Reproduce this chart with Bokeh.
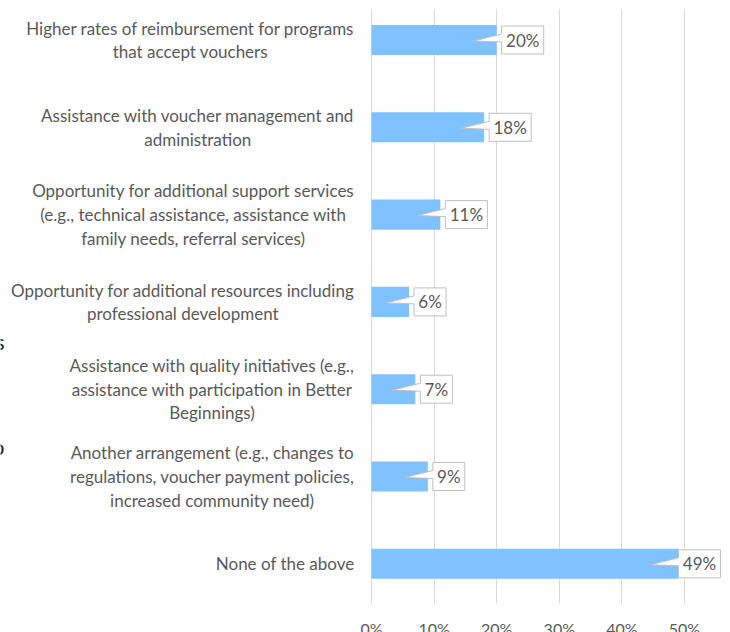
from bokeh.plotting import figure
from bokeh.models import Range1d, Label, FixedTicker
from bokeh.core.properties import value
from bokeh.embed import file_html
from bokeh.resources import INLINE

# ---- data ----
categories = [
    "Higher rates of reimbursement for programs\nthat accept vouchers",
    "Assistance with voucher management and\nadministration",
    "Opportunity for additional support services\n(e.g., technical assistance, assistance with\nfamily needs, referral services)",
    "Opportunity for additional resources including\nprofessional development",
    "Assistance with quality initiatives (e.g.,\nassistance with participation in Better\nBeginnings)",
    "Another arrangement (e.g., changes to\nregulations, voucher payment policies,\nincreased community need)",
    "None of the above",
]
values = [0.20, 0.18, 0.11, 0.06, 0.07, 0.09, 0.49]
value_labels = ["20%", "18%", "11%", "6%", "7%", "9%", "49%"]
x_ticks = [0.0, 0.1, 0.2, 0.3, 0.4, 0.5]
x_tick_labels = ["0%", "10%", "20%", "30%", "40%", "50%"]
stray_texts = ["s", "o"]          # cut-off fragments at the left edge
stray_rows = [3.45, 4.66]

# ---- layout ----
W, H = 730, 632
GRID_TOP, GRID_BOT = 9, 603        # canvas y extent of grid lines
TICK_LABEL_Y = 628                 # canvas y of tick label centres
ZERO_PX = 371                      # canvas x of 0%
PXX = 626.0                        # px per unit (100%)
ROW0_PX, ROW_PX = 39.5, 87.3


def y_of(px):
    return (px - ROW0_PX) / ROW_PX


X0 = -ZERO_PX / PXX
X1 = (W - ZERO_PX) / PXX
FONT = "Lato"

p = figure(width=W, height=H, output_backend="svg", toolbar_location=None,
           x_range=Range1d(X0, X1), y_range=Range1d(y_of(H), y_of(0)),
           min_border_left=0, min_border_right=0, min_border_top=0,
           min_border_bottom=0)
p.outline_line_color = None
p.xaxis.visible = False
p.yaxis.visible = False
p.ygrid.grid_line_color = None
p.xgrid.ticker = FixedTicker(ticks=x_ticks)
p.xgrid.grid_line_color = "#D9D9D9"
p.xgrid.cross_bounds = (y_of(GRID_TOP), y_of(GRID_BOT))

idx = list(range(len(categories)))
p.hbar(y=idx, left=0, right=values, height=0.345, fill_color="#80C1FF", line_color=None)

# tick labels
p.text(x=x_ticks, y=[y_of(TICK_LABEL_Y)] * len(x_ticks), text=x_tick_labels,
       text_align="center", text_baseline="middle", text_font=value(FONT),
       text_font_size="16px", text_color="#595959")

# callouts
xs, ys, tx = [], [], []
for i, (v, lab) in enumerate(zip(values, value_labels)):
    bw = 42 if len(lab) >= 3 else 32
    bar_end = v * PXX
    bl = min(bar_end + 5, (W - ZERO_PX) - 10 - bw)
    tip = bl - 28
    pts = [(bl, -14), (bl + bw, -14), (bl + bw, 14), (bl, 14), (bl, 2), (tip, 1), (bl, -6), (bl, -14)]
    xs.append([px / PXX for px, _ in pts])
    ys.append([i + dy / ROW_PX for _, dy in pts])
    tx.append((bl + bw / 2) / PXX)
p.patches(xs=xs, ys=ys, fill_color="white", line_color="#BFBFBF", line_width=1)
p.text(x=tx, y=idx, text=value_labels, text_align="center", text_baseline="middle",
       text_font=value(FONT), text_font_size="17px", text_color="#595959")

for i, cat in enumerate(categories):
    p.add_layout(Label(x=0, y=i, x_offset=-17, text=cat, anchor="center_right",
                       text_align="center", text_baseline="middle",
                       text_font=FONT, text_font_size="17px", text_color="#595959",
                       text_line_height=1.13))

for t, r in zip(stray_texts, stray_rows):
    p.add_layout(Label(x=X0, y=r, x_offset=4, text=t, text_align="right",
                       text_baseline="middle", text_font=FONT, text_font_size="21px",
                       text_color="#222222"))

open("out.html", "w").write(file_html(p, INLINE))
